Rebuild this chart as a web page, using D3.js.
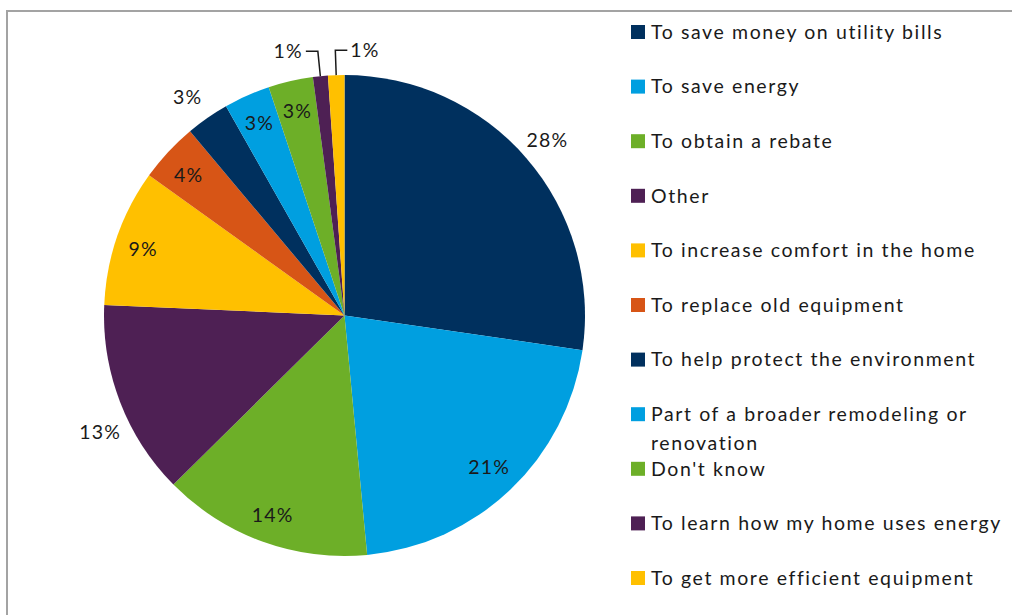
<!DOCTYPE html>
<html>
<head>
<meta charset="utf-8">
<script src="https://cdn.jsdelivr.net/npm/d3@7"></script>
<style>
  html, body { margin: 0; padding: 0; background: #fff; }
  svg { display: block; }
  text { font-family: Lato, "Open Sans", sans-serif; fill: #1a1a1a; }
</style>
</head>
<body>
<svg id="chart" width="1012" height="615"></svg>
<script>
// ---- data ----
const categories = [
  "To save money on utility bills",
  "To save energy",
  "To obtain a rebate",
  "Other",
  "To increase comfort in the home",
  "To replace old equipment",
  "To help protect the environment",
  "Part of a broader remodeling or renovation",
  "Don't know",
  "To learn how my home uses energy",
  "To get more efficient equipment"
];
const values = [27.3, 21.2, 14.1, 13.1, 9.2, 4.0, 2.9, 3.1, 3.0, 1.0, 1.1];
const valueLabels = ["28%", "21%", "14%", "13%", "9%", "4%", "3%", "3%", "3%", "1%", "1%"];
const colors = ["#00305e", "#009fe0", "#6daf28", "#4e2054", "#ffc000", "#d75516",
                "#00305e", "#009fe0", "#6daf28", "#4e2054", "#ffc000"];
// label placement: "in", "out" or leader line to the left / right
const labelMode = ["out", "in", "in", "out", "in", "in", "out", "in", "in", "leaderL", "leaderR"];
const labelNudge = [[0, 0], [0, 0], [0, 2], [6, 20], [-3, 2], [-2, 2], [-4, 2], [0, 0], [0, 0], [0, 0], [0, 0]];

// ---- layout ----
const svg = d3.select("#chart");
const cx = 344.5, cy = 315.5, R = 240.5;

// border
svg.append("path")
  .attr("d", "M7,615 L7,11 L1012,11")
  .attr("fill", "none").attr("stroke", "#a3a3a3").attr("stroke-width", 2);

const data = categories.map((c, i) => ({ name: c, value: values[i], label: valueLabels[i], color: colors[i], mode: labelMode[i], nudge: labelNudge[i] }));

const pie = d3.pie().value(d => d.value).sort(null);
const arcs = pie(data);
const arc = d3.arc().innerRadius(0).outerRadius(R);

const g = svg.append("g").attr("transform", `translate(${cx},${cy})`);
g.selectAll("path.slice").data(arcs).enter().append("path")
  .attr("class", "slice")
  .attr("d", arc)
  .attr("fill", d => d.data.color);

function polar(a, r) { return [r * Math.sin(a), -r * Math.cos(a)]; }

const fs = 19.5, ls = 1.6;
arcs.forEach(d => {
  const mid = (d.startAngle + d.endAngle) / 2;
  const m = d.data.mode;
  if (m === "in" || m === "out") {
    const r = m === "in" ? R * 0.873 : R * 1.115;
    const [x, y] = polar(mid, r);
    g.append("text")
      .attr("x", x + d.data.nudge[0]).attr("y", y + d.data.nudge[1])
      .attr("text-anchor", "middle").attr("dy", "0.35em")
      .attr("font-size", fs).attr("letter-spacing", 1.2)
      .text(d.data.label);
  } else {
    const side = m === "leaderL" ? -1 : 1;
    const p0 = polar(mid, R);
    const p1 = polar(mid, R + 25);
    const p2 = [p1[0] + side * 12, p1[1]];
    g.append("polyline")
      .attr("points", [p0, p1, p2].map(p => p.join(",")).join(" "))
      .attr("fill", "none").attr("stroke", "#1a1a1a").attr("stroke-width", 1.5);
    g.append("text")
      .attr("x", p2[0] + side * 3).attr("y", p2[1])
      .attr("text-anchor", side < 0 ? "end" : "start").attr("dy", "0.35em")
      .attr("font-size", fs).attr("letter-spacing", 1.2)
      .text(d.data.label);
  }
});

// legend
const legX = 631, legY0 = 32, legStep = 54.6, maxW = 372, lineH = 29;
const leg = svg.append("g");
data.forEach((d, i) => {
  const y = legY0 + i * legStep;
  leg.append("rect")
    .attr("x", legX).attr("y", y - 7).attr("width", 14).attr("height", 14)
    .attr("fill", d.color);
  const t = leg.append("text")
    .attr("x", legX + 20).attr("y", y)
    .attr("font-size", fs).attr("letter-spacing", ls);
  const words = d.name.split(" ");
  let line = [];
  let ts = t.append("tspan").attr("x", legX + 20).attr("dy", "0.35em");
  words.forEach(w => {
    line.push(w);
    ts.text(line.join(" "));
    if (ts.node().getComputedTextLength() > maxW && line.length > 1) {
      line.pop();
      ts.text(line.join(" "));
      line = [w];
      ts = t.append("tspan").attr("x", legX + 20).attr("dy", lineH).text(w);
    }
  });
});
</script>
</body>
</html>
